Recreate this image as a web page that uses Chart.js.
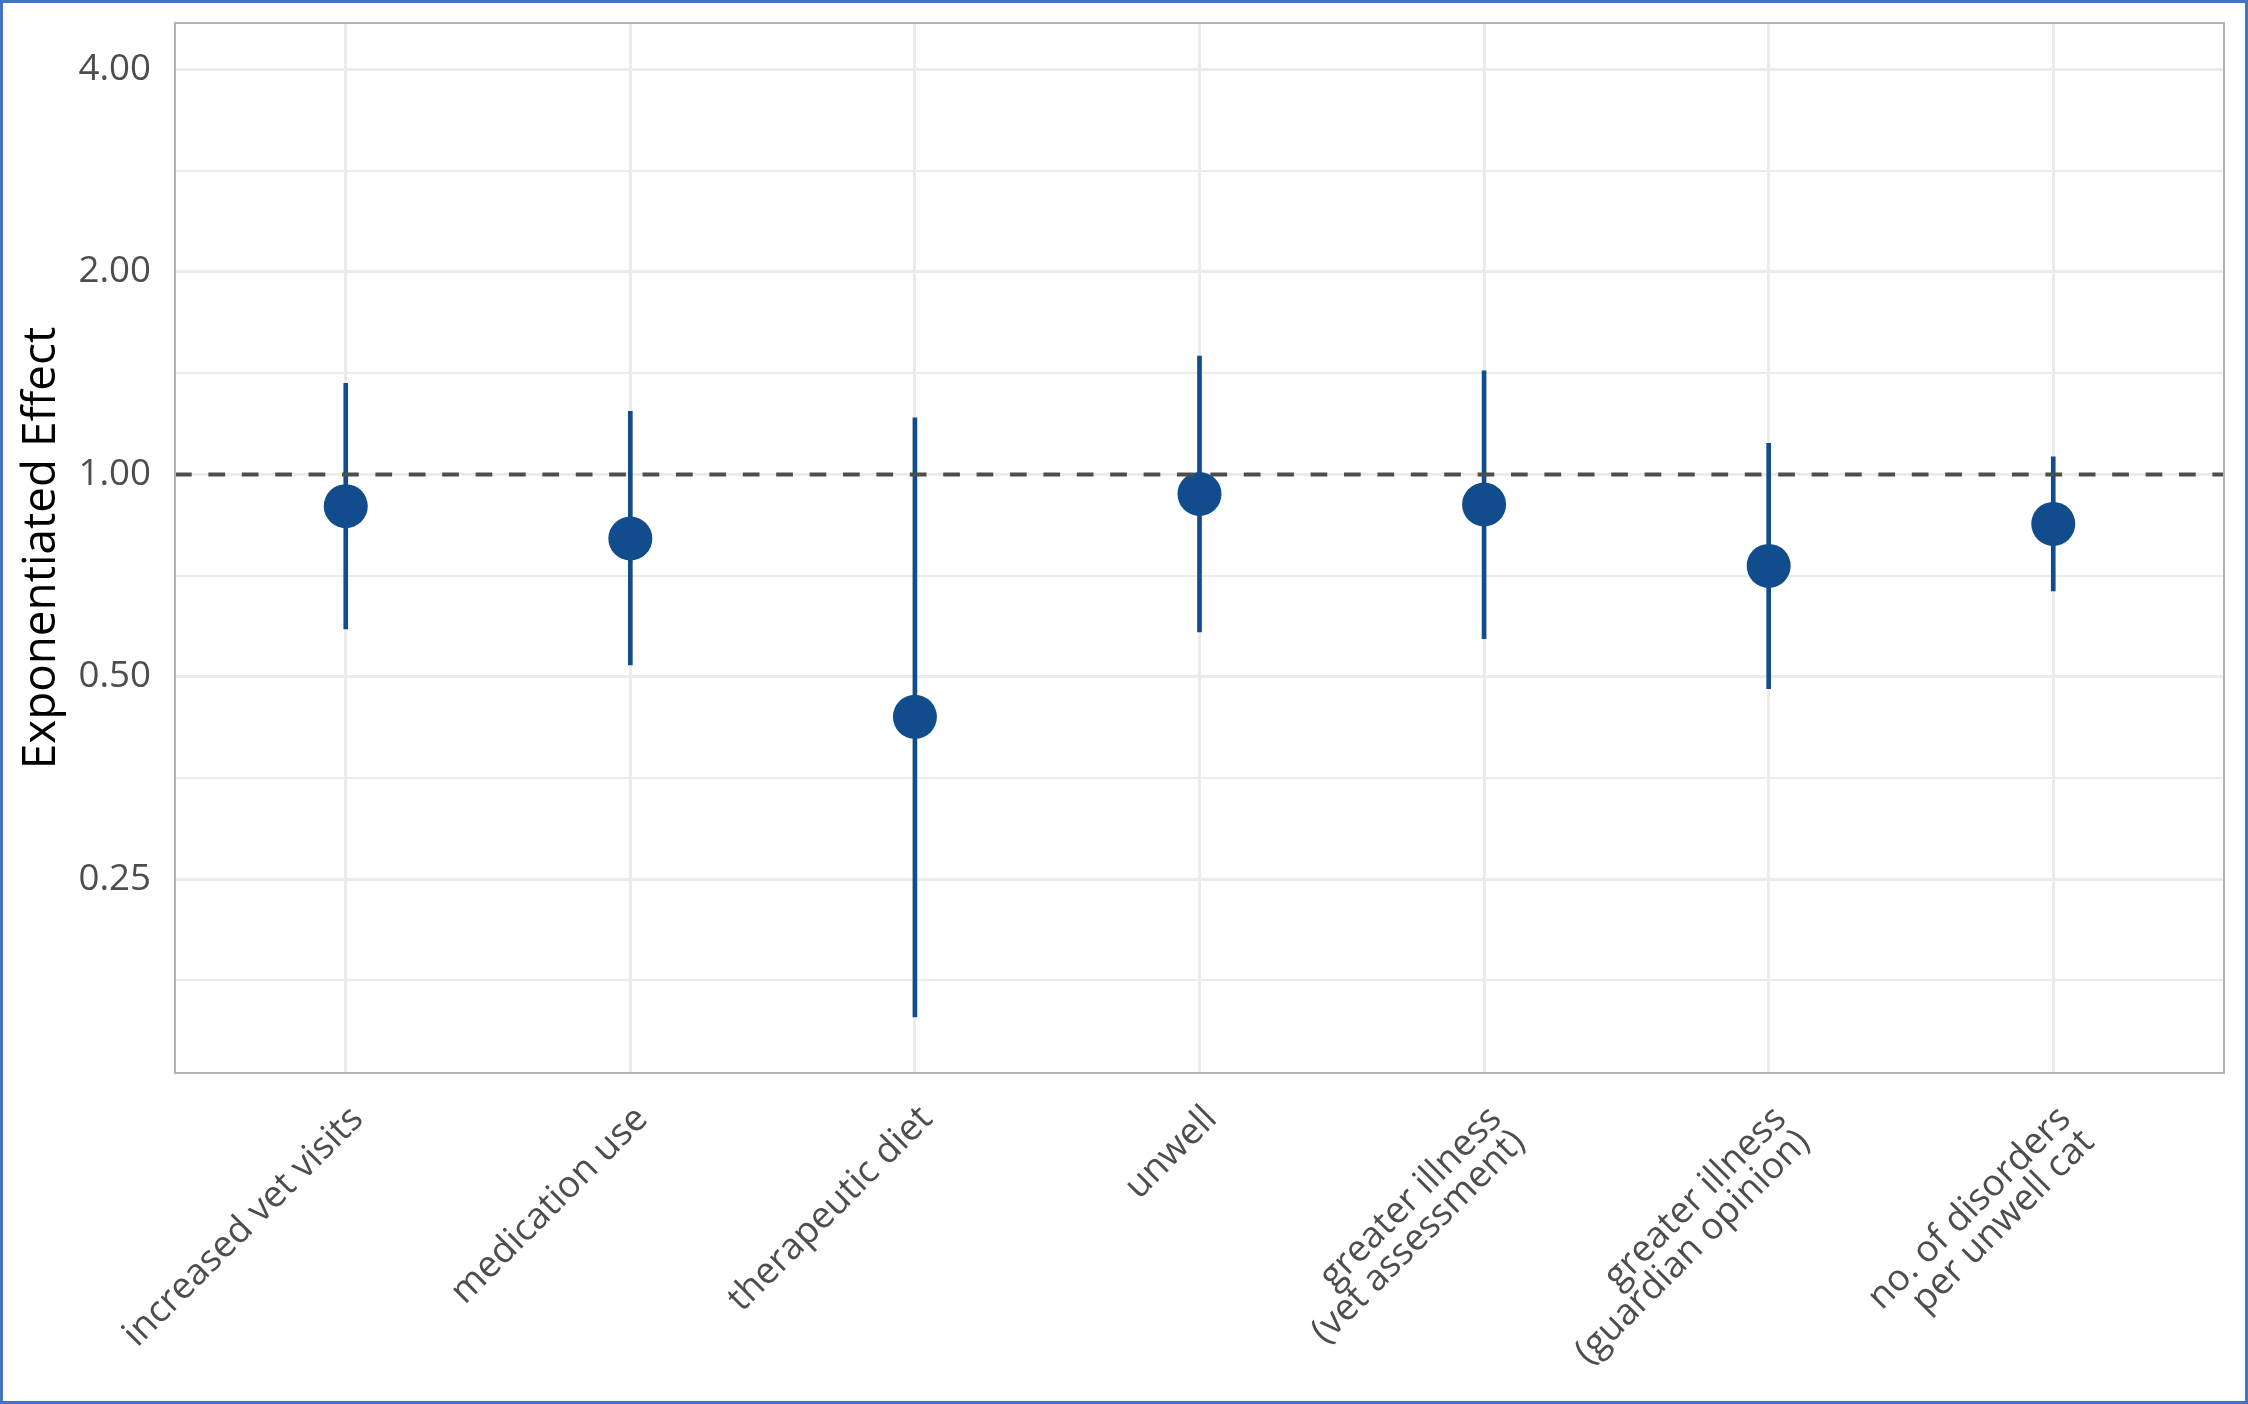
<!DOCTYPE html>
<html>
<head>
<meta charset="utf-8">
<script src="https://cdn.jsdelivr.net/npm/chart.js@4.4.1/dist/chart.umd.min.js"></script>
<style>
    html, body {
        margin: 0;
        padding: 0;
        background: #ffffff;
    }
    #wrap {
        position: relative;
        width: 2248px;
        height: 1404px;
    }
    #frame {
        position: absolute;
        left: 0;
        top: 0;
        width: 2248px;
        height: 1404px;
        box-sizing: border-box;
        border: 3px solid #4472c4;
        pointer-events: none;
    }
</style>
</head>
<body>
<div id="wrap">
    <canvas id="effects-chart" width="2248" height="1404"></canvas>
    <div id="frame"></div>
</div>
<script>
const categories = [
    'increased vet visits',
    'medication use',
    'therapeutic diet',
    'unwell',
    ['greater illness', '(vet assessment)'],
    ['greater illness', '(guardian opinion)'],
    ['no. of disorders', 'per unwell cat']
];
const estimates = [0.897, 0.803, 0.436, 0.935, 0.902, 0.731, 0.844];
const lowerCI = [0.589, 0.521, 0.156, 0.583, 0.570, 0.480, 0.671];
const upperCI = [1.366, 1.241, 1.214, 1.500, 1.426, 1.112, 1.062];

const yMajorTicks = [0.25, 0.5, 1, 2, 4];
const yMinorTicks = [0.177, 0.354, 0.707, 1.414, 2.828];
const yMin = 0.1288;
const yMax = 4.69;
const xMin = 0.4;
const xMax = 7.6;
const refValue = 1;

const pointColor = '#114d8c';
const gridColor = '#ebebeb';

const xPositions = categories.map((c, i) => i + 1);

const pointData = xPositions.map((x, i) => ({ x: x, y: estimates[i] }));
const rangeData = xPositions.map((x, i) => ({ x: x, y: [lowerCI[i], upperCI[i]] }));

// panel border drawn over everything, like ggplot
const panelBorder = {
    id: 'panelBorder',
    afterDraw(chart) {
        const { ctx, chartArea } = chart;
        ctx.save();
        ctx.strokeStyle = '#b3b3b3';
        ctx.lineWidth = 2;
        ctx.strokeRect(chartArea.left, chartArea.top,
            chartArea.right - chartArea.left, chartArea.bottom - chartArea.top);
        ctx.restore();
    }
};

let chart = new Chart(document.getElementById('effects-chart'), {
    type: 'bar',
    data: {
        datasets: [{
            type: 'line',
            data: [{ x: xMin, y: refValue }, { x: xMax, y: refValue }],
            borderColor: '#4d4d4d',
            borderWidth: 4,
            borderDash: [16.7, 16.7],
            pointRadius: 0,
            fill: false,
            order: 0,
        }, {
            type: 'scatter',
            data: pointData,
            backgroundColor: pointColor,
            borderWidth: 0,
            pointRadius: 22,
            pointHoverRadius: 22,
            order: 1,
        }, {
            type: 'bar',
            data: rangeData,
            backgroundColor: pointColor,
            borderWidth: 0,
            barThickness: 4,
            grouped: false,
            order: 2,
        }]
    },
    options: {
        responsive: false,
        animation: false,
        events: [],
        layout: {
            padding: { top: 23, right: 24, left: 0, bottom: 0 }
        },
        plugins: {
            legend: { display: false },
            tooltip: { enabled: false },
            title: { display: false },
        },
        scales: {
            x: {
                type: 'linear',
                min: xMin,
                max: xMax,
                offset: false,
                afterBuildTicks: (scale) => {
                    scale.ticks = xPositions.map(v => ({ value: v }));
                },
                afterFit: (scale) => {
                    scale.height = 331;
                    scale.paddingLeft = 0;
                    scale.paddingRight = 0;
                },
                ticks: {
                    autoSkip: false,
                    maxRotation: 45,
                    minRotation: 45,
                    padding: 28.5,
                    color: '#4d4d4d',
                    font: { family: '"Open Sans"', size: 36.7, lineHeight: 0.9 },
                    showLabelBackdrop: true,
                    backdropColor: 'rgba(0,0,0,0)',
                    backdropPadding: 0,
                    callback: (value) => categories[Math.round(value) - 1],
                },
                grid: {
                    color: gridColor,
                    lineWidth: 3,
                    offset: false,
                    drawTicks: false,
                },
                border: { display: false },
            },
            y: {
                type: 'logarithmic',
                min: yMin,
                max: yMax,
                afterBuildTicks: (scale) => {
                    scale.ticks = yMinorTicks.concat(yMajorTicks)
                        .sort((a, b) => a - b)
                        .map(v => ({ value: v, major: yMajorTicks.includes(v) }));
                },
                afterFit: (scale) => {
                    scale.width = 175;
                    scale.paddingTop = 0;
                    scale.paddingBottom = 0;
                },
                ticks: {
                    autoSkip: false,
                    padding: 24,
                    color: '#4d4d4d',
                    font: { family: '"Open Sans"', size: 36.7 },
                    callback: (value) => yMajorTicks.includes(value) ? value.toFixed(2) : '',
                },
                grid: {
                    color: gridColor,
                    lineWidth: (ctx) => (ctx.tick && yMajorTicks.includes(ctx.tick.value)) ? 3 : 2,
                    drawTicks: false,
                },
                border: { display: false },
                title: {
                    display: true,
                    text: 'Exponentiated Effect',
                    color: '#000000',
                    font: { family: '"Open Sans"', size: 45.8 },
                    padding: { top: 14, bottom: 0 },
                },
            }
        }
    },
    plugins: [panelBorder]
});
</script>
</body>
</html>
